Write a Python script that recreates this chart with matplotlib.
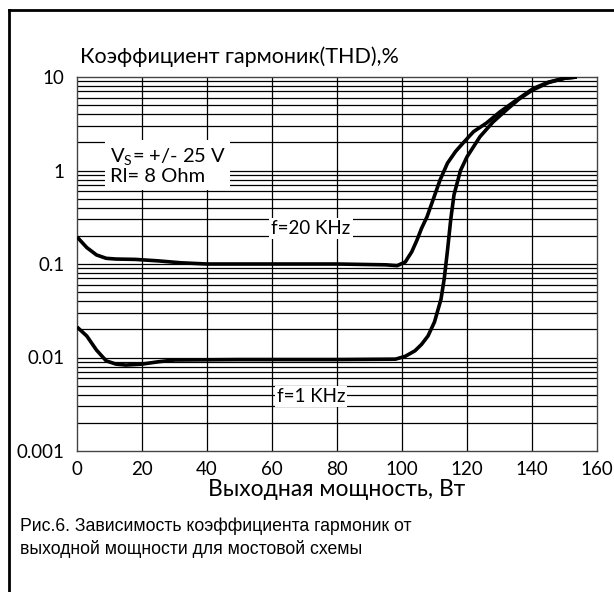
import matplotlib
matplotlib.use("Agg")
import matplotlib.pyplot as plt
from matplotlib.lines import Line2D
import numpy as np

# f = 20 kHz curve (power W, THD %)
p20 = [0, 3, 6, 9, 12, 18, 25, 32, 40, 60, 80, 95, 98.5, 101, 103, 104.6, 106, 107.7, 109.5,
       111.7, 114, 116.5, 118.8, 122, 126, 130, 135, 140.3, 145, 150, 153.8]
thd20 = [0.195, 0.15, 0.125, 0.115, 0.113, 0.112, 0.108, 0.103, 0.1, 0.1, 0.1, 0.098, 0.096,
         0.105, 0.135, 0.18, 0.24, 0.32, 0.48, 0.79, 1.2, 1.6, 1.97, 2.6, 3.22, 4.2, 5.6,
         7.5, 8.8, 9.7, 10.0]

# f = 1 kHz curve
p1 = [0, 3, 6, 9, 12, 15, 20, 25, 30, 50, 80, 98, 101, 104, 106, 108, 110, 112, 113, 114,
      115, 116, 118, 120, 124, 128, 132, 136, 140, 145, 150, 153.8]
thd1 = [0.0212, 0.017, 0.012, 0.0092, 0.0085, 0.0083, 0.0085, 0.009, 0.0094, 0.0095, 0.0095,
        0.0096, 0.0103, 0.0118, 0.0138, 0.017, 0.024, 0.042, 0.07, 0.14, 0.3, 0.55, 1.0,
        1.4, 2.3, 3.3, 4.4, 5.8, 7.2, 8.7, 9.7, 10.0]

xticks = [0, 20, 40, 60, 80, 100, 120, 140, 160]
yticks = [0.001, 0.01, 0.1, 1, 10]
ytick_labels = ["0.001", "0.01", "0.1", "1", "10"]

gfont = "Lato"

fig = plt.figure(figsize=(6.14, 5.92), dpi=100)
ax = fig.add_axes([77 / 614, 1 - 451 / 592, 520 / 614, 374 / 592])

ax.set_yscale("log")
ax.set_xlim(0, 160)
ax.set_ylim(0.001, 10)

# grid
for xv in xticks[1:-1]:
    ax.axvline(xv, color="black", lw=0.9, zorder=1)
for dec in [0.001, 0.01, 0.1, 1]:
    for m in range(1, 10):
        if dec * m > 0.001:
            ax.axhline(dec * m, color="black", lw=0.9, zorder=1)

ax.plot(p20, thd20, color="black", lw=2.6, zorder=4, solid_capstyle="butt")
ax.plot(p1, thd1, color="black", lw=2.6, zorder=4, solid_capstyle="butt")

for s in ax.spines.values():
    s.set_linewidth(1.0)
    s.set_color("#444444")

ax.set_xticks(xticks)
ax.set_xticklabels([str(v) for v in xticks], fontsize=13.5, family=gfont)
ax.set_yticks(yticks)
ax.set_yticklabels(ytick_labels, fontsize=13.5, family=gfont)
ax.yaxis.set_minor_locator(matplotlib.ticker.NullLocator())
ax.tick_params(length=0, pad=9)
ax.tick_params(axis="x", pad=7)

ax.set_xlabel("Выходная мощность, Вт", fontsize=16.5, family=gfont, labelpad=1)
fig.text(80 / 614, 1 - 57 / 592, "Коэффициент гармоник(THD),%", fontsize=15.5,
         family=gfont, va="center", ha="left")

# annotations
ax.text(10, 1.12, "V$_\\mathregular{S}$= +/- 25 V\nRl= 8 Ohm", fontsize=14.5, family=gfont,
        va="center", ha="left", linespacing=1.05, zorder=3,
        bbox=dict(facecolor="white", edgecolor="none", pad=3))
ax.text(72, 0.24, "f=20 KHz", fontsize=13.5, family=gfont, va="center",
        ha="center", zorder=3, bbox=dict(facecolor="white", edgecolor="none", pad=1.5))
ax.text(72, 0.0038, "f=1 KHz", fontsize=13.5, family=gfont, va="center",
        ha="center", zorder=3, bbox=dict(facecolor="white", edgecolor="none", pad=1.5))

# caption
fig.text(20 / 614, 1 - 538 / 592,
         "Рис.6. Зависимость коэффициента гармоник от\nвыходной мощности для мостовой схемы",
         fontsize=12.7, family="Liberation Sans", va="center", ha="left", linespacing=1.35)

# outer frame
fig.add_artist(Line2D([9 / 614, 9 / 614], [0, 1 - 10 / 592], color="black", lw=2,
                      transform=fig.transFigure))
fig.add_artist(Line2D([9 / 614, 1], [1 - 10 / 592, 1 - 10 / 592], color="black", lw=2,
                      transform=fig.transFigure))

fig.savefig("out.png", dpi=100)
